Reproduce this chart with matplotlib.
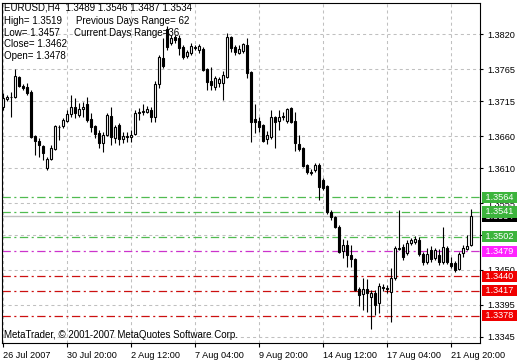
import matplotlib
matplotlib.use("Agg")
import matplotlib.pyplot as plt
import numpy as np

# EURUSD H4 candles, 26 Jul - 22 Aug 2007
opens = [
    1.3706, 1.3718, 1.3721, 1.3722, 1.3753, 1.3739, 1.3737, 1.3729, 1.3660, 1.3652,
    1.3645, 1.3610, 1.3624, 1.3640, 1.3675, 1.3676, 1.3684, 1.3695, 1.3706, 1.3693,
    1.3703, 1.3711, 1.3687, 1.3676, 1.3665, 1.3649, 1.3662, 1.3692, 1.3657, 1.3678,
    1.3656, 1.3659, 1.3659, 1.3663, 1.3696, 1.3698, 1.3698, 1.3701, 1.3690, 1.3742,
    1.3783, 1.3828, 1.3806, 1.3816, 1.3814, 1.3800, 1.3786, 1.3791, 1.3799, 1.3795,
    1.3797, 1.3766, 1.3747, 1.3737, 1.3744, 1.3744, 1.3753, 1.3816, 1.3800, 1.3791,
    1.3794, 1.3803, 1.3761, 1.3687, 1.3684, 1.3678, 1.3656, 1.3659, 1.3690, 1.3684,
    1.3690, 1.3684, 1.3704, 1.3684, 1.3648, 1.3641, 1.3615, 1.3604, 1.3607, 1.3615,
    1.3591, 1.3582, 1.3541, 1.3533, 1.3517, 1.3480, 1.3489, 1.3473, 1.3467, 1.3420,
    1.3412, 1.3420, 1.3407, 1.3414, 1.3398, 1.3423, 1.3422, 1.3415, 1.3437, 1.3483,
    1.3486, 1.3477, 1.3492, 1.3494, 1.3497, 1.3475, 1.3462, 1.3481, 1.3469, 1.3473,
    1.3462, 1.3484, 1.3461, 1.3461, 1.3451, 1.3477, 1.3483, 1.3489]
highs = [
    1.3728, 1.3725, 1.3729, 1.3766, 1.3755, 1.3742, 1.3744, 1.3733, 1.3662, 1.3657,
    1.3646, 1.3627, 1.3646, 1.3678, 1.3678, 1.3689, 1.3701, 1.3725, 1.3720, 1.3712,
    1.3714, 1.3722, 1.3696, 1.3678, 1.3670, 1.3667, 1.3696, 1.3706, 1.3678, 1.3681,
    1.3667, 1.3667, 1.3670, 1.3701, 1.3704, 1.3711, 1.3707, 1.3706, 1.3747, 1.3788,
    1.3814, 1.3833, 1.3819, 1.3819, 1.3819, 1.3803, 1.3795, 1.3806, 1.3803, 1.3805,
    1.3800, 1.3767, 1.3769, 1.3755, 1.3753, 1.3762, 1.3822, 1.3817, 1.3803, 1.3803,
    1.3806, 1.3814, 1.3762, 1.3711, 1.3690, 1.3679, 1.3668, 1.3701, 1.3692, 1.3701,
    1.3698, 1.3704, 1.3706, 1.3698, 1.3662, 1.3643, 1.3616, 1.3608, 1.3618, 1.3618,
    1.3594, 1.3583, 1.3544, 1.3535, 1.3521, 1.3499, 1.3497, 1.3489, 1.3469, 1.3423,
    1.3437, 1.3436, 1.3418, 1.3418, 1.3429, 1.3428, 1.3426, 1.3453, 1.3488, 1.3544,
    1.3491, 1.3497, 1.3500, 1.3503, 1.3502, 1.3478, 1.3484, 1.3488, 1.3484, 1.3483,
    1.3517, 1.3488, 1.3470, 1.3464, 1.3478, 1.3489, 1.3505, 1.3546]
lows = [
    1.3701, 1.3715, 1.3690, 1.3720, 1.3737, 1.3733, 1.3725, 1.3657, 1.3630, 1.3627,
    1.3623, 1.3607, 1.3623, 1.3638, 1.3654, 1.3673, 1.3682, 1.3690, 1.3689, 1.3690,
    1.3690, 1.3682, 1.3667, 1.3657, 1.3641, 1.3635, 1.3660, 1.3646, 1.3649, 1.3646,
    1.3649, 1.3651, 1.3651, 1.3662, 1.3685, 1.3693, 1.3696, 1.3682, 1.3682, 1.3736,
    1.3767, 1.3795, 1.3803, 1.3806, 1.3788, 1.3781, 1.3783, 1.3788, 1.3795, 1.3791,
    1.3762, 1.3733, 1.3733, 1.3733, 1.3737, 1.3717, 1.3751, 1.3792, 1.3788, 1.3789,
    1.3791, 1.3751, 1.3651, 1.3665, 1.3667, 1.3651, 1.3648, 1.3656, 1.3641, 1.3670,
    1.3685, 1.3681, 1.3681, 1.3637, 1.3637, 1.3612, 1.3601, 1.3599, 1.3604, 1.3560,
    1.3576, 1.3538, 1.3528, 1.3516, 1.3477, 1.3469, 1.3455, 1.3455, 1.3417, 1.3393,
    1.3387, 1.3384, 1.3357, 1.3379, 1.3382, 1.3417, 1.3414, 1.3368, 1.3434, 1.3481,
    1.3466, 1.3473, 1.3489, 1.3491, 1.3472, 1.3458, 1.3459, 1.3462, 1.3466, 1.3458,
    1.3459, 1.3459, 1.3453, 1.3447, 1.3450, 1.3470, 1.3481, 1.3487]
closes = [
    1.3720, 1.3721, 1.3722, 1.3755, 1.3739, 1.3736, 1.3728, 1.3659, 1.3652, 1.3646,
    1.3634, 1.3624, 1.3641, 1.3676, 1.3674, 1.3685, 1.3695, 1.3706, 1.3696, 1.3703,
    1.3706, 1.3685, 1.3674, 1.3663, 1.3649, 1.3662, 1.3693, 1.3659, 1.3674, 1.3656,
    1.3660, 1.3660, 1.3662, 1.3696, 1.3698, 1.3699, 1.3703, 1.3690, 1.3742, 1.3784,
    1.3770, 1.3800, 1.3814, 1.3811, 1.3799, 1.3784, 1.3792, 1.3802, 1.3800, 1.3802,
    1.3764, 1.3745, 1.3740, 1.3751, 1.3750, 1.3756, 1.3816, 1.3799, 1.3792, 1.3797,
    1.3805, 1.3759, 1.3682, 1.3682, 1.3674, 1.3652, 1.3662, 1.3690, 1.3682, 1.3690,
    1.3691, 1.3703, 1.3682, 1.3649, 1.3640, 1.3613, 1.3604, 1.3602, 1.3615, 1.3580,
    1.3579, 1.3541, 1.3533, 1.3517, 1.3478, 1.3489, 1.3473, 1.3467, 1.3418, 1.3411,
    1.3420, 1.3414, 1.3414, 1.3395, 1.3425, 1.3422, 1.3420, 1.3437, 1.3484, 1.3485,
    1.3470, 1.3492, 1.3497, 1.3499, 1.3475, 1.3462, 1.3475, 1.3467, 1.3481, 1.3462,
    1.3486, 1.3462, 1.3456, 1.3450, 1.3475, 1.3484, 1.3488, 1.3534]

# axis ticks
ytick_vals = [1.3820, 1.3765, 1.3715, 1.3660, 1.3610, 1.3555, 1.3505, 1.3450, 1.3395, 1.3345]
xtick_idx = [0, 16, 32, 48, 64, 80, 96, 112]
xtick_labels = ["26 Jul 2007", "30 Jul 20:00", "2 Aug 12:00", "7 Aug 04:00",
                "9 Aug 20:00", "14 Aug 12:00", "17 Aug 04:00", "21 Aug 20:00"]

# horizontal levels
green_levels = [1.3564, 1.3541, 1.3502]
magenta_levels = [1.3479]
red_levels = [1.3440, 1.3417, 1.3378]
current_price = 1.3534

FS = 6.6      # axis / price tag text
FS_INFO = 7.0 # info lines in the corners
plt.rcParams["font.family"] = ["Liberation Sans", "DejaVu Sans"]
plt.rcParams["lines.scale_dashes"] = False

fig = plt.figure(figsize=(5.2, 3.6), dpi=100)
ax = fig.add_axes([2 / 520, 1 - 343 / 360, 478 / 520, 340 / 360])

o = np.array(opens)
h = np.array(highs)
l = np.array(lows)
c = np.array(closes)
x = np.arange(len(o))
up = c >= o
lo = np.minimum(o, c)
ht = np.maximum(np.abs(c - o), 0.00002)

ax.vlines(x, l, h, color="black", lw=0.8, zorder=3)
ax.bar(x[up], ht[up], bottom=lo[up], width=0.55, facecolor="white",
       edgecolor="black", lw=0.8, zorder=4)
ax.bar(x[~up], ht[~up], bottom=lo[~up], width=0.55, facecolor="black",
       edgecolor="black", lw=0.8, zorder=4)

ax.set_xlim(-0.33, 119.2)
ax.set_ylim(1.33351, 1.38693)

ax.set_yticks(ytick_vals)
ax.set_yticklabels([f"{v:.4f}" for v in ytick_vals])
ax.yaxis.tick_right()
ax.set_xticks(xtick_idx)
ax.set_xticklabels(xtick_labels, ha="left")
ax.tick_params(axis="y", direction="out", length=2.5, width=0.8, pad=2.5, labelsize=FS)
ax.tick_params(axis="x", direction="out", length=3, width=0.8, pad=2.5, labelsize=FS)
ax.grid(True, color="#c0c0c0", linestyle=(0, (2.2, 2.2)), lw=0.75, zorder=0)
ax.set_axisbelow(True)
for sp in ax.spines.values():
    sp.set_linewidth(0.8)

dash = (0, (6, 2.5, 1.5, 2.5))
ax.axhline(current_price, color="#c0c0c0", lw=1.0, zorder=1)
for v in green_levels:
    ax.axhline(v, color="#50bb50", lw=0.9, ls=dash, zorder=2)
for v in magenta_levels:
    ax.axhline(v, color="#cc33cc", lw=0.9, ls=dash, zorder=2)
for v in red_levels:
    ax.axhline(v, color="#cc1010", lw=0.9, ls=dash, zorder=2)

trans = ax.get_yaxis_transform()
lx = 1 + 3 / 478


def price_tag(v, bg, z):
    ax.text(lx, v, f" {v:.4f} ", transform=trans, ha="left", va="center",
            color="white", fontsize=FS, clip_on=False, zorder=z,
            bbox=dict(boxstyle="square,pad=0.12", fc=bg, ec="none"))


price_tag(current_price, "black", 6)
for v in green_levels:
    price_tag(v, "#3cb43c", 7)
for v in magenta_levels:
    price_tag(v, "#ff22ff", 7)
for v in red_levels:
    price_tag(v, "#f00000", 7)


def label(px, py, s):
    ax.text((px - 2) / 478, 1 - (py - 3) / 340, s, transform=ax.transAxes,
            ha="left", va="center", fontsize=FS_INFO, zorder=2.8)


label(4, 8, "EURUSD,H4  1.3489 1.3546 1.3487 1.3534")
label(4, 21, "High= 1.3519")
label(76, 21, "Previous Days Range= 62")
label(4, 33, "Low= 1.3457")
label(74, 33, "Current Days Range=36")
label(4, 44, "Close= 1.3462")
label(4, 56, "Open= 1.3478")
label(4, 335, "MetaTrader, \u00a9 2001-2007 MetaQuotes Software Corp.")

fig.savefig("out.png", dpi=100)
